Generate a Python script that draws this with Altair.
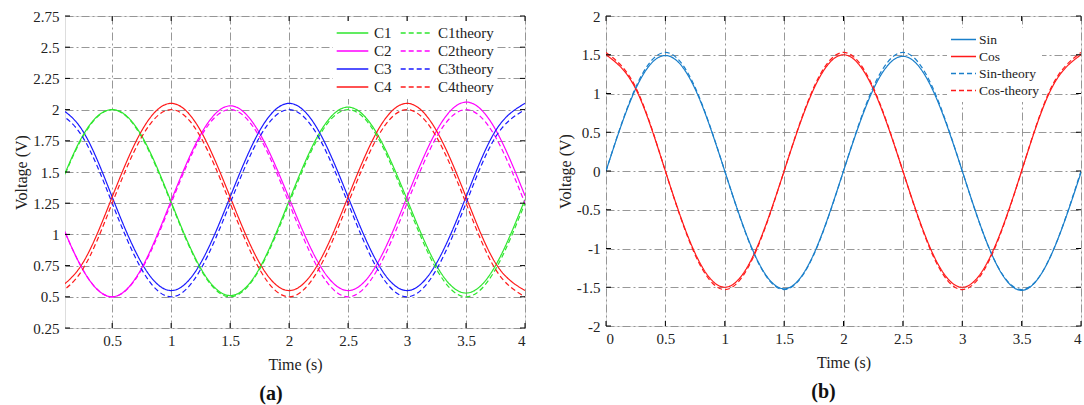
import altair as alt
import pandas as pd

FONT = "Liberation Serif"

# ---------------- Panel (a) data ----------------
t_a = [0, 0.25, 0.5, 0.75, 1, 1.25, 1.5, 1.75, 2, 2.25, 2.5, 2.75, 3, 3.25, 3.5, 3.75, 4]
c1 = [1.25, 1.79, 2.0, 1.79, 1.26, 0.73, 0.51, 0.73, 1.27, 1.80, 2.02, 1.80, 1.28, 0.75, 0.53, 0.75, 1.28]
c1_th = [1.25, 1.78, 2.0, 1.78, 1.25, 0.72, 0.5, 0.72, 1.25, 1.78, 2.0, 1.78, 1.25, 0.72, 0.5, 0.72, 1.25]
c2 = [1.25, 0.72, 0.5, 0.73, 1.27, 1.80, 2.03, 1.81, 1.29, 0.77, 0.55, 0.77, 1.30, 1.83, 2.06, 1.84, 1.31]
c2_th = [1.25, 0.72, 0.5, 0.72, 1.25, 1.78, 2.0, 1.78, 1.25, 0.72, 0.5, 0.72, 1.25, 1.78, 2.0, 1.78, 1.25]
c3 = [2.04, 1.83, 1.30, 0.77, 0.55, 0.77, 1.30, 1.83, 2.05, 1.83, 1.30, 0.77, 0.55, 0.77, 1.30, 1.83, 2.05]
c3_th = [2.0, 1.78, 1.25, 0.72, 0.5, 0.72, 1.25, 1.78, 2.0, 1.78, 1.25, 0.72, 0.5, 0.72, 1.25, 1.78, 2.0]
c4 = [0.54, 0.77, 1.30, 1.83, 2.05, 1.83, 1.30, 0.77, 0.55, 0.77, 1.30, 1.83, 2.05, 1.83, 1.30, 0.77, 0.55]
c4_th = [0.5, 0.72, 1.25, 1.78, 2.0, 1.78, 1.25, 0.72, 0.5, 0.72, 1.25, 1.78, 2.0, 1.78, 1.25, 0.72, 0.5]

# legend fills column by column: measured series first, theory second
series_a = ["C1", "C2", "C3", "C4", "C1theory", "C2theory", "C3theory", "C4theory"]
values_a = [c1, c2, c3, c4, c1_th, c2_th, c3_th, c4_th]
colors_a = ["#2ee62e", "#ff00ff", "#1a1aff", "#ff1a1a", "#2ee62e", "#ff00ff", "#1a1aff", "#ff1a1a"]
dash_solid = [1, 0]
dash_theory = [5, 3]
dashes_a = [dash_solid] * 4 + [dash_theory] * 4

xticks_a = [0.5, 1, 1.5, 2, 2.5, 3, 3.5, 4]
yticks_a = [0.25, 0.5, 0.75, 1, 1.25, 1.5, 1.75, 2, 2.25, 2.5, 2.75]

# ---------------- Panel (b) data ----------------
t_b = [0, 0.25, 0.5, 0.75, 1, 1.25, 1.5, 1.75, 2, 2.25, 2.5, 2.75, 3, 3.25, 3.5, 3.75, 4]
sin_m = [0, 1.06, 1.49, 1.06, 0.0, -1.07, -1.52, -1.07, 0.0, 1.05, 1.48, 1.05, 0.0, -1.08, -1.54, -1.08, -0.02]
cos_m = [1.5, 1.06, 0, -1.06, -1.5, -1.06, 0, 1.06, 1.5, 1.06, 0, -1.06, -1.5, -1.06, 0, 1.06, 1.5]
sin_th = [0, 1.08, 1.53, 1.08, 0, -1.08, -1.53, -1.08, 0, 1.08, 1.53, 1.08, 0, -1.08, -1.53, -1.08, 0]
cos_th = [1.53, 1.08, 0, -1.08, -1.53, -1.08, 0, 1.08, 1.53, 1.08, 0, -1.08, -1.53, -1.08, 0, 1.08, 1.53]

series_b = ["Sin", "Cos", "Sin-theory", "Cos-theory"]
values_b = [sin_m, cos_m, sin_th, cos_th]
colors_b = ["#1a7fca", "#ff1a1a", "#1a7fca", "#ff1a1a"]
dashes_b = [dash_solid, dash_solid, dash_theory, dash_theory]

xticks_b = [0, 0.5, 1, 1.5, 2, 2.5, 3, 3.5, 4]
yticks_b = [-2, -1.5, -1, -0.5, 0, 0.5, 1, 1.5, 2]


def long_df(t, names, vals):
    rows = []
    for n, v in zip(names, vals):
        for ti, vi in zip(t, v):
            rows.append({"t": ti, "v": vi, "series": n})
    return pd.DataFrame(rows)


GRID = dict(grid=True, gridDash=[8, 3, 2, 3], gridColor="#8c8c8c", gridWidth=0.9,
            ticks=False, domain=False, labelFont=FONT, labelFontSize=15, labelColor="#222",
            titleFont=FONT, titleFontSize=16, titleFontWeight="normal", titleColor="#222")

LABEL_EXPR = "replace(format(datum.value, '~g'), '\u2212', '-')"


def panel(df, names, colors, dashes, xdom, ydom, xt, yt, W, H, legend, title, title_dx):
    xs = alt.Scale(domain=xdom, nice=False, zero=False)
    ys = alt.Scale(domain=ydom, nice=False, zero=False)
    xaxis = alt.Axis(values=xt, title="Time (s)", labelExpr=LABEL_EXPR,
                     labelPadding=5, titlePadding=8, **GRID)
    yaxis = alt.Axis(values=yt, title="Voltage (V)", labelExpr=LABEL_EXPR,
                     labelPadding=6, titlePadding=3, **GRID)
    lines = alt.Chart(df).mark_line(clip=True, interpolate="natural", strokeWidth=1.2).encode(
        x=alt.X("t:Q", scale=xs, axis=xaxis),
        y=alt.Y("v:Q", scale=ys, axis=yaxis),
        color=alt.Color("series:N", scale=alt.Scale(domain=names, range=colors), legend=legend),
        strokeDash=alt.StrokeDash("series:N", scale=alt.Scale(domain=names, range=dashes), legend=legend),
        detail="series:N",
    )
    xtdf = pd.DataFrame({"t": xt})
    ytdf = pd.DataFrame({"v": yt})
    tick_top = alt.Chart(xtdf).mark_rule(color="black", strokeWidth=1).encode(
        x=alt.X("t:Q", scale=xs, axis=xaxis), y=alt.value(0), y2=alt.value(5))
    tick_bot = alt.Chart(xtdf).mark_rule(color="black", strokeWidth=1).encode(
        x=alt.X("t:Q", scale=xs, axis=xaxis), y=alt.value(H), y2=alt.value(H - 5))
    tick_left = alt.Chart(ytdf).mark_rule(color="black", strokeWidth=1).encode(
        y=alt.Y("v:Q", scale=ys, axis=yaxis), x=alt.value(0), x2=alt.value(5))
    tick_right = alt.Chart(ytdf).mark_rule(color="black", strokeWidth=1).encode(
        y=alt.Y("v:Q", scale=ys, axis=yaxis), x=alt.value(W), x2=alt.value(W - 5))
    return alt.layer(lines, tick_top, tick_bot, tick_left, tick_right).properties(
        width=W, height=H,
        title=alt.TitleParams(title, orient="bottom", anchor="middle", frame="group", font=FONT,
                              fontSize=20, fontWeight="bold", color="#111", offset=12, dx=title_dx),
    )


legend_a = alt.Legend(orient="none", legendX=268, legendY=5, columns=2, symbolType="stroke",
                      symbolSize=1000, symbolStrokeWidth=1.3, labelFont=FONT, labelFontSize=15,
                      labelColor="#222", labelOffset=5, fillColor="white", padding=3,
                      clipHeight=18, rowPadding=0, columnPadding=8, title=None)
legend_b = alt.Legend(orient="none", legendX=341, legendY=12, columns=1, symbolType="stroke",
                      symbolSize=625, symbolStrokeWidth=1.3, labelFont=FONT, labelFontSize=13.5,
                      labelColor="#222", labelOffset=2, fillColor="white", padding=3,
                      clipHeight=17, rowPadding=0, title=None)

df_a = long_df(t_a, series_a, values_a)
df_b = long_df(t_b, series_b, values_b)

pa = panel(df_a, series_a, colors_a, dashes_a, [0.1, 4], [0.25, 2.75], xticks_a, yticks_a,
           460, 312, legend_a, "(a)", -24)
pb = panel(df_b, series_b, colors_b, dashes_b, [0, 4], [-2, 2], xticks_b, yticks_b,
           475, 310, legend_b, "(b)", -20)

chart = alt.hconcat(pa, pb, spacing=30).resolve_scale(
    color="independent", strokeDash="independent", x="independent", y="independent"
).properties(padding={"left": 13, "top": 8, "right": 0, "bottom": 0}).configure_view(
    stroke="black", strokeWidth=1
).configure(background="white")

chart.save("out.html", embed_options={"renderer": "svg", "actions": False})
